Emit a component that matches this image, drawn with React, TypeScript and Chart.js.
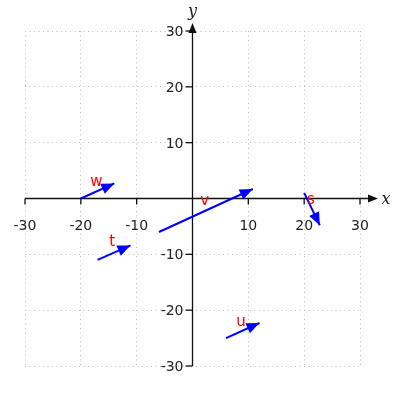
import React, { useEffect, useRef } from 'react';
import { Chart, registerables } from 'chart.js';
Chart.register(...registerables);

const vectorNames = ['w', 'v', 's', 't', 'u'];
const tailX = [-20, -6, 20, -17, 6];
const tailY = [0, -6, 1, -11, -25];
const headX = [-14, 10.8, 22.8, -11.1, 12];
const headY = [2.7, 1.7, -4.8, -8.4, -22.3];
const labelX = [-17.2, 2.2, 21.2, -14.4, 8.7];
const labelY = [3.0, -0.5, -0.2, -7.8, -22.2];
const tickValues = [-30, -20, -10, 10, 20, 30];
const axisMin = -30;
const axisMax = 30;
const axisStep = 10;

function drawHead(ctx: CanvasRenderingContext2D, x0: number, y0: number, x1: number, y1: number, len: number, half: number, color: string) {
  const a = Math.atan2(y1 - y0, x1 - x0);
  const bx = x1 - len * Math.cos(a);
  const by = y1 - len * Math.sin(a);
  const px = -Math.sin(a) * half;
  const py = Math.cos(a) * half;
  ctx.beginPath();
  ctx.moveTo(x1, y1);
  ctx.lineTo(bx + px, by + py);
  ctx.lineTo(bx - px, by - py);
  ctx.closePath();
  ctx.fillStyle = color;
  ctx.fill();
}

const axesPlugin = {
  id: 'axesPlugin',
  beforeDatasetsDraw(chart: any) {
    const ctx = chart.ctx as CanvasRenderingContext2D;
    const xs = chart.scales.x;
    const ys = chart.scales.y;
    const x0 = xs.getPixelForValue(0);
    const y0 = ys.getPixelForValue(0);
    const left = xs.getPixelForValue(axisMin);
    const right = xs.getPixelForValue(axisMax);
    const top = ys.getPixelForValue(axisMax);
    const bottom = ys.getPixelForValue(axisMin);
    ctx.save();
    ctx.strokeStyle = '#111';
    ctx.lineWidth = 1.3;
    // x axis
    ctx.beginPath();
    ctx.moveTo(left, y0);
    ctx.lineTo(right + 12, y0);
    ctx.stroke();
    drawHead(ctx, left, y0, right + 18, y0, 10, 4, '#111');
    // y axis
    ctx.beginPath();
    ctx.moveTo(x0, bottom);
    ctx.lineTo(x0, top - 2);
    ctx.stroke();
    drawHead(ctx, x0, bottom, x0, top - 8, 10, 4, '#111');
    // ticks and labels
    ctx.fillStyle = '#222';
    ctx.font = '14px "DejaVu Sans"';
    for (const v of tickValues) {
      const px = xs.getPixelForValue(v);
      ctx.beginPath();
      ctx.moveTo(px, y0);
      ctx.lineTo(px, y0 + 6);
      ctx.stroke();
      ctx.textAlign = 'center';
      ctx.textBaseline = 'middle';
      ctx.fillText(String(v), px, y0 + 27.5);
      const py = ys.getPixelForValue(v);
      ctx.beginPath();
      ctx.moveTo(x0 - 7, py);
      ctx.lineTo(x0, py);
      ctx.stroke();
      ctx.textAlign = 'right';
      ctx.fillText(String(v), x0 - 9, py + 1.5);
    }
    // axis names
    ctx.font = 'italic 16px "DejaVu Serif"';
    ctx.textAlign = 'center';
    ctx.textBaseline = 'middle';
    ctx.fillText('x', right + 26, y0 + 1);
    ctx.fillText('y', x0, top - 19);
    ctx.restore();
  },
  afterDatasetsDraw(chart: any) {
    const ctx = chart.ctx as CanvasRenderingContext2D;
    const xs = chart.scales.x;
    const ys = chart.scales.y;
    ctx.save();
    for (let i = 0; i < vectorNames.length; i++) {
      drawHead(
        ctx,
        xs.getPixelForValue(tailX[i]), ys.getPixelForValue(tailY[i]),
        xs.getPixelForValue(headX[i]), ys.getPixelForValue(headY[i]),
        13, 5.5, '#0000ff'
      );
    }
    ctx.fillStyle = '#ff0000';
    ctx.font = '15px "DejaVu Sans"';
    ctx.textAlign = 'center';
    ctx.textBaseline = 'middle';
    for (let i = 0; i < vectorNames.length; i++) {
      ctx.fillText(vectorNames[i], xs.getPixelForValue(labelX[i]), ys.getPixelForValue(labelY[i]));
    }
    ctx.restore();
  },
};

export default function App() {
  const ref = useRef<HTMLCanvasElement>(null);
  useEffect(() => {
    document.body.style.margin = '0';
    const datasets = vectorNames.map((n, i) => ({
      label: n,
      data: [
        { x: tailX[i], y: tailY[i] },
        { x: headX[i], y: headY[i] },
      ],
      showLine: true,
      borderColor: '#0000ff',
      backgroundColor: '#0000ff',
      borderWidth: 2,
      pointRadius: 0,
      pointHoverRadius: 0,
    }));
    const gridOpts = {
      color: '#bdbdbd',
      lineWidth: 1,
      drawTicks: false,
    };
    const chart = new Chart(ref.current!, {
      type: 'scatter',
      data: { datasets },
      options: {
        animation: false,
        responsive: true,
        maintainAspectRatio: false,
        layout: { padding: { left: 25, right: 40, top: 31, bottom: 34 } },
        plugins: { legend: { display: false }, tooltip: { enabled: false } },
        events: [],
        scales: {
          x: {
            type: 'linear',
            min: axisMin,
            max: axisMax,
            ticks: { display: false, stepSize: axisStep },
            grid: gridOpts,
            border: { display: false, dash: [1, 3.5] },
          },
          y: {
            type: 'linear',
            min: axisMin,
            max: axisMax,
            ticks: { display: false, stepSize: axisStep },
            grid: gridOpts,
            border: { display: false, dash: [1, 3.5] },
          },
        },
      } as any,
      plugins: [axesPlugin],
    });
    return () => chart.destroy();
  }, []);
  return (
    <div style={{ width: 400, height: 400, position: 'relative' }}>
      <canvas ref={ref} />
    </div>
  );
}
